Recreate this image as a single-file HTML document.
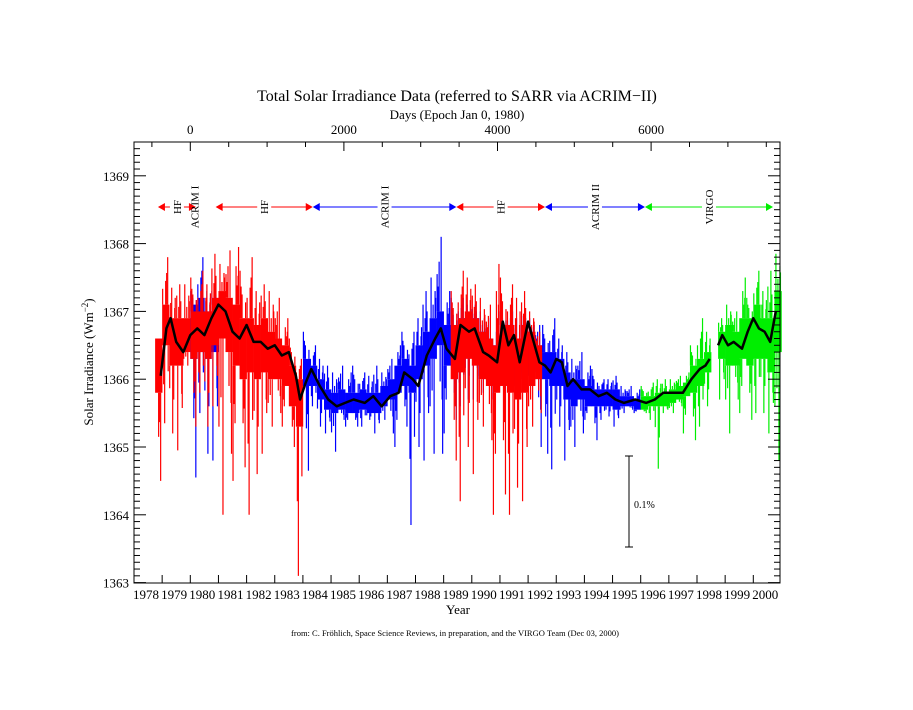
<!DOCTYPE html>
<html><head><meta charset="utf-8"><style>
body{margin:0;background:#fff;}
svg text{font-family:"Liberation Serif",serif;fill:#000;}
</style></head><body>
<svg id="chart" width="913" height="705" viewBox="0 0 913 705" xmlns="http://www.w3.org/2000/svg">
<rect width="913" height="705" fill="#fff"/>
<text x="457" y="101" font-size="16" text-anchor="middle">Total Solar Irradiance Data (referred to SARR via ACRIM−II)</text>
<text x="457" y="119" font-size="13" text-anchor="middle">Days (Epoch Jan 0, 1980)</text>
<text transform="translate(93,362) rotate(-90)" font-size="13" text-anchor="middle">Solar Irradiance (Wm<tspan baseline-shift="super" font-size="9">−2</tspan>)</text>
<text x="458" y="614" font-size="13" text-anchor="middle">Year</text>
<text x="455" y="636" font-size="8.5" text-anchor="middle">from: C. Fröhlich, Space Science Reviews, in preparation, and the VIRGO Team (Dec 03, 2000)</text>
<g id="data"></g>
<g id="axes"></g>
</svg>
<script>
// ---- data ----
const yearTicks=[1978,1979,1980,1981,1982,1983,1984,1985,1986,1987,1988,1989,1990,1991,1992,1993,1994,1995,1996,1997,1998,1999,2000];
const dayTicks=[0,2000,4000,6000];
const valueTicks=[1363,1364,1365,1366,1367,1368,1369];
const hf1Years=[1978.875,1979.125,1979.375,1979.625,1979.875];
const hf1Lo=[1364.5,1365.35,1365.2,1364.95,1366.2];
const hf1CoreLo=[1365.8,1366.5,1366.2,1366.2,1366.4];
const hf1CoreHi=[1366.6,1367.1,1366.9,1366.9,1366.9];
const hf1Hi=[1366.6,1367.8,1367.35,1367.4,1367.4];

const acrim1aYears=[1980.125,1980.375,1980.625,1980.875];
const acrim1aLo=[1364.55,1365.5,1364.9,1364.8];
const acrim1aCoreLo=[1366.3,1366.4,1366.3,1366.4];
const acrim1aCoreHi=[1367.1,1367.2,1367.0,1367.1];
const acrim1aHi=[1367.3,1367.8,1367.3,1367.4];

const hf2Years=[1980.125,1980.375,1980.625,1980.875,1981.125,1981.375,1981.625,1981.875,1982.125,1982.375,1982.625,1982.875,1983.125,1983.375,1983.625,1983.875];
const hf2Lo=[1365.3,1365.8,1365.3,1365.6,1364.0,1364.9,1364.5,1364.7,1364.0,1364.6,1364.9,1365.3,1365.5,1365.3,1365.0,1363.1];
const hf2CoreLo=[1366.3,1366.4,1366.3,1366.5,1366.6,1366.4,1366.2,1366.0,1366.1,1366.0,1366.1,1366.0,1366.0,1365.9,1365.6,1365.3];
const hf2CoreHi=[1367.0,1367.0,1367.0,1367.2,1367.3,1367.2,1367.1,1366.9,1366.9,1366.8,1366.9,1366.7,1366.6,1366.5,1366.2,1366.0];
const hf2Hi=[1367.5,1367.6,1367.4,1367.85,1367.7,1367.9,1367.95,1367.6,1367.8,1367.3,1367.4,1367.3,1367.2,1366.9,1366.6,1366.3];

const acrim1bYears=[1984.125,1984.375,1984.625,1984.875,1985.125,1985.375,1985.625,1985.875,1986.125,1986.375,1986.625,1986.875,1987.125,1987.375,1987.625,1987.875,1988.125,1988.375,1988.625,1988.875,1989.125,1989.375,1989.625,1989.875,1990.125,1990.375,1990.625,1990.875,1991.125,1991.375,1991.625,1991.875,1992.125,1992.375];
const acrim1bLo=[1364.65,1365.6,1365.3,1365.2,1364.93,1365.4,1365.3,1365.3,1365.3,1365.4,1365.2,1365.4,1365.2,1365.0,1365.3,1363.85,1365.0,1364.8,1364.9,1364.9,1365.2,1365.4,1365.6,1365.7,1365.7,1365.8,1365.7,1365.7,1365.8,1365.8,1365.7,1365.8,1365.9,1365.0];
const acrim1bCoreLo=[1365.9,1365.9,1365.7,1365.55,1365.5,1365.55,1365.5,1365.5,1365.55,1365.5,1365.5,1365.6,1365.7,1365.8,1365.9,1365.8,1366.0,1366.2,1366.3,1366.5,1366.2,1366.2,1366.3,1366.4,1366.4,1366.2,1366.1,1366.0,1366.2,1366.1,1366.0,1366.1,1366.2,1366.1];
const acrim1bCoreHi=[1366.3,1366.2,1366.0,1365.85,1365.8,1365.85,1365.8,1365.8,1365.85,1365.8,1365.8,1365.9,1366.0,1366.2,1366.3,1366.2,1366.5,1366.7,1366.9,1367.0,1366.8,1366.7,1366.9,1366.9,1366.9,1366.7,1366.6,1366.5,1366.8,1366.8,1366.6,1366.8,1366.7,1366.5];
const acrim1bHi=[1366.7,1366.5,1366.3,1366.2,1366.1,1366.2,1366.1,1366.2,1366.1,1366.05,1366.2,1366.1,1366.3,1366.5,1366.7,1366.7,1366.9,1367.3,1367.5,1368.1,1367.3,1367.2,1367.2,1367.1,1367.1,1367.0,1366.9,1366.8,1367.0,1367.0,1366.9,1367.0,1366.9,1366.8];

const hf3Years=[1989.375,1989.625,1989.875,1990.125,1990.375,1990.625,1990.875,1991.125,1991.375,1991.625,1991.875,1992.125,1992.375];
const hf3Lo=[1364.8,1364.2,1365.0,1364.6,1365.3,1365.1,1364.0,1364.3,1364.0,1364.4,1364.2,1365.3,1365.5];
const hf3CoreLo=[1366.0,1366.1,1366.3,1366.2,1366.0,1365.9,1365.8,1365.9,1365.8,1365.7,1365.8,1365.9,1366.0];
const hf3CoreHi=[1366.8,1366.9,1367.0,1366.9,1366.7,1366.6,1366.5,1366.8,1366.8,1366.6,1366.8,1366.7,1366.5];
const hf3Hi=[1367.3,1367.6,1367.5,1367.4,1367.2,1367.1,1367.7,1367.5,1367.4,1367.2,1367.3,1367.0,1366.7];

const acrim2Years=[1992.625,1992.875,1993.125,1993.375,1993.625,1993.875,1994.125,1994.375,1994.625,1994.875,1995.125,1995.375,1995.625,1995.875];
const acrim2Lo=[1364.9,1364.67,1365.3,1364.8,1365.0,1365.2,1365.4,1365.1,1365.4,1365.45,1365.3,1365.5,1365.55,1365.5];
const acrim2CoreLo=[1366.0,1365.9,1365.9,1365.7,1365.6,1365.7,1365.6,1365.6,1365.6,1365.6,1365.55,1365.6,1365.6,1365.55];
const acrim2CoreHi=[1366.4,1366.4,1366.3,1366.1,1366.0,1366.0,1365.9,1365.85,1365.85,1365.85,1365.85,1365.75,1365.75,1365.7];
const acrim2Hi=[1366.8,1366.9,1366.6,1366.4,1366.3,1366.4,1366.2,1366.15,1366.0,1366.0,1366.05,1365.9,1365.9,1365.85];

const virgoYears=[1996.125,1996.375,1996.625,1996.875,1997.125,1997.375,1997.625,1997.875,1998.125,1998.375,1998.875,1999.125,1999.375,1999.625,1999.875,2000.125,2000.375,2000.625,2000.875];
const virgoLo=[1365.5,1365.4,1364.68,1365.5,1365.5,1365.6,1365.2,1365.1,1365.3,1365.6,1365.7,1365.2,1365.7,1365.5,1365.4,1365.5,1365.5,1365.2,1364.8];
const virgoCoreLo=[1365.55,1365.6,1365.6,1365.6,1365.65,1365.7,1365.75,1365.8,1365.9,1366.1,1366.3,1366.2,1366.2,1366.3,1366.2,1366.3,1366.3,1366.1,1366.4];
const virgoCoreHi=[1365.75,1365.75,1365.8,1365.8,1365.85,1365.9,1365.95,1366.2,1366.3,1366.4,1366.7,1366.8,1366.7,1366.9,1366.9,1367.1,1366.9,1366.9,1367.3];
const virgoHi=[1365.9,1365.95,1366.0,1366.0,1366.0,1366.05,1366.1,1366.5,1366.9,1366.7,1366.9,1367.1,1367.0,1367.5,1367.2,1367.6,1367.3,1367.6,1367.85];

const smoothYears=[1978.95,1979.15,1979.3,1979.5,1979.75,1980.0,1980.25,1980.5,1980.75,1981.0,1981.25,1981.5,1981.75,1982.0,1982.25,1982.5,1982.75,1983.0,1983.25,1983.5,1983.75,1983.9,1984.1,1984.3,1984.6,1984.9,1985.2,1985.5,1985.8,1986.2,1986.5,1986.8,1987.1,1987.4,1987.6,1987.9,1988.1,1988.4,1988.7,1988.9,1989.1,1989.4,1989.6,1989.9,1990.1,1990.4,1990.6,1990.9,1991.1,1991.3,1991.5,1991.7,1992.0,1992.2,1992.4,1992.6,1992.8,1993.0,1993.2,1993.4,1993.6,1993.9,1994.2,1994.5,1994.8,1995.1,1995.4,1995.8,1996.2,1996.5,1996.8,1997.2,1997.5,1997.8,1998.1,1998.3,1998.45,1998.6,1998.75,1998.9,1999.1,1999.3,1999.6,1999.8,2000.0,2000.2,2000.4,2000.6,2000.8];
const smoothValues=[1366.05,1366.75,1366.9,1366.55,1366.4,1366.65,1366.75,1366.65,1366.9,1367.1,1367.0,1366.7,1366.6,1366.8,1366.55,1366.55,1366.45,1366.5,1366.35,1366.4,1366.05,1365.7,1365.95,1366.15,1365.9,1365.7,1365.6,1365.65,1365.7,1365.65,1365.75,1365.6,1365.75,1365.8,1366.1,1366.0,1365.9,1366.35,1366.6,1366.75,1366.45,1366.3,1366.8,1366.7,1366.75,1366.4,1366.35,1366.25,1366.85,1366.5,1366.65,1366.25,1366.85,1366.55,1366.25,1366.2,1366.1,1366.3,1366.25,1365.9,1366.0,1365.85,1365.85,1365.75,1365.8,1365.7,1365.65,1365.7,1365.65,1365.7,1365.8,1365.8,1365.8,1366.0,1366.15,1366.2,1366.3,null,1366.5,1366.65,1366.5,1366.55,1366.45,1366.7,1366.9,1366.75,1366.7,1366.55,1367.0];

const periodNames=["HF","ACRIM I","HF","ACRIM I","HF","ACRIM II","VIRGO"];
const periodStart=[1978.85,1980.15,1980.9,1984.35,1989.45,1992.6,1996.15];
const periodEnd=[1980.2,1980.15,1984.35,1989.45,1992.6,1996.15,2000.7];
const periodColors=["red","blue","red","blue","red","blue","#00ee00"];

// ---- scales ----
const L=134,R=780,T=142,B=583;
const X=y=>L+(y-1978)*28.15;
const Y=v=>582.6-(v-1363)*67.8;
const XD=d=>190.3+d*0.0768;
const NS="http://www.w3.org/2000/svg";
const dg=document.getElementById('data'), ag=document.getElementById('axes');
function mk(tag,attrs,parent){const e=document.createElementNS(NS,tag);for(const k in attrs)e.setAttribute(k,attrs[k]);parent.appendChild(e);return e;}

function drawSeries(name,color,yrs,lo,cl,ch,hi){
  const g=mk('g',{},dg);
  
  
  const offs=[0.5,5.5,2.5,3.5,1.5,4.5,6];
  for(let i=0;i<yrs.length;i++){
    const x0=X(yrs[i]-0.125), w=X(yrs[i]+0.125)-x0;
    const r=mk('rect',{x:x0,y:Y(ch[i]),width:w+0.3,height:Math.max(1,Y(cl[i])-Y(ch[i])),fill:color},g);
    
    
    const ends=[[ch[i],hi[i]],[cl[i],lo[i]],[ch[i],(hi[i]+ch[i])/2],[cl[i],(lo[i]+cl[i])/2],[ch[i],(hi[i]*2+ch[i])/3],[cl[i],(lo[i]+cl[i]*2)/3],[ch[i],(hi[i]+ch[i]*2)/3]];
    ends.forEach((e,k)=>{
      const xx=x0+offs[(k+i)%7]*w/7;
      const ln=mk('line',{x1:xx,x2:xx,y1:Y(e[0]),y2:Y(e[1]),stroke:color,'stroke-width':1.2},g);
      
      
    });
  }
}
drawSeries('hf-series-1','red',hf1Years,hf1Lo,hf1CoreLo,hf1CoreHi,hf1Hi);
drawSeries('acrim1-series-a','blue',acrim1aYears,acrim1aLo,acrim1aCoreLo,acrim1aCoreHi,acrim1aHi);
drawSeries('hf-series-2','red',hf2Years,hf2Lo,hf2CoreLo,hf2CoreHi,hf2Hi);
drawSeries('acrim1-series-b','blue',acrim1bYears,acrim1bLo,acrim1bCoreLo,acrim1bCoreHi,acrim1bHi);
drawSeries('hf-series-3','red',hf3Years,hf3Lo,hf3CoreLo,hf3CoreHi,hf3Hi);
drawSeries('acrim2-series','blue',acrim2Years,acrim2Lo,acrim2CoreLo,acrim2CoreHi,acrim2Hi);
drawSeries('virgo-series','#00ee00',virgoYears,virgoLo,virgoCoreLo,virgoCoreHi,virgoHi);

let d='',pen=false;
smoothYears.forEach((yr,i)=>{const v=smoothValues[i];if(v===null){pen=false;return;}d+=(pen?'L':'M')+X(yr).toFixed(1)+','+Y(v).toFixed(1);pen=true;});
const sm=mk('path',{d:d,fill:'none',stroke:'#000','stroke-width':2.5,'stroke-linejoin':'round'},dg);



const ay=207;
periodNames.forEach((nm,i)=>{
  const g=mk('g',{},ag);
  
  
  const x1=X(periodStart[i]),x2=X(periodEnd[i]),c=periodColors[i],xm=(x1+x2)/2;
  if(x2-x1>4){
    mk('line',{x1:x1+4,x2:x2-4,y1:ay,y2:ay,stroke:c,'stroke-width':1},g);
    mk('polygon',{points:`${x1},${ay} ${x1+7},${ay-4} ${x1+7},${ay+4}`,fill:c},g);
    mk('polygon',{points:`${x2},${ay} ${x2-7},${ay-4} ${x2-7},${ay+4}`,fill:c},g);
    const tw=nm.length*6+4;
    mk('rect',{x:xm-7,y:ay-tw/2,width:14,height:tw,fill:'#fff'},g);
  }
  const t=mk('text',{transform:`translate(${xm+4},${ay}) rotate(-90)`,'font-size':11,'text-anchor':'middle'},g);
  t.textContent=nm;
});

const fr=mk('rect',{x:L,y:T,width:R-L,height:B-T,fill:'none',stroke:'#000','stroke-width':1},ag);



yearTicks.forEach(yr=>{
  const x=X(yr);
  mk('line',{x1:x,x2:x,y1:B,y2:B-8,stroke:'#000'},ag);
  const t=mk('text',{x:x-1,y:599,'font-size':13},ag);
  
  
  t.textContent=yr;
});
for(let dd=-500;dd<=7500;dd+=500){
  const x=XD(dd); if(x<L||x>R)continue;
  const major=dd%2000===0;
  mk('line',{x1:x,x2:x,y1:T,y2:T+(major?9:5),stroke:'#000'},ag);
}
dayTicks.forEach(dd=>{
  const t=mk('text',{x:XD(dd),y:134,'font-size':13,'text-anchor':'middle'},ag);
  
  
  t.textContent=dd;
});
for(let v=1363;v<=1369.5001;v+=0.1){
  const y=Y(v); if(y<T)continue;
  const major=Math.abs(v-Math.round(v))<0.01;
  const len=major?12:6;
  mk('line',{x1:L,x2:L+len,y1:y,y2:y,stroke:'#000'},ag);
  mk('line',{x1:R,x2:R-len,y1:y,y2:y,stroke:'#000'},ag);
}
valueTicks.forEach(v=>{
  const t=mk('text',{x:129,y:Y(v)+5,'font-size':13,'text-anchor':'end'},ag);
  
  
  t.textContent=v;
});

const sb=mk('g',{},ag);


mk('line',{x1:629,x2:629,y1:456,y2:547,stroke:'#000'},sb);
mk('line',{x1:625,x2:633,y1:456,y2:456,stroke:'#000'},sb);
mk('line',{x1:625,x2:633,y1:547,y2:547,stroke:'#000'},sb);
const st=mk('text',{x:634,y:508,'font-size':10},sb);
st.textContent='0.1%';
</script>
</body></html>
